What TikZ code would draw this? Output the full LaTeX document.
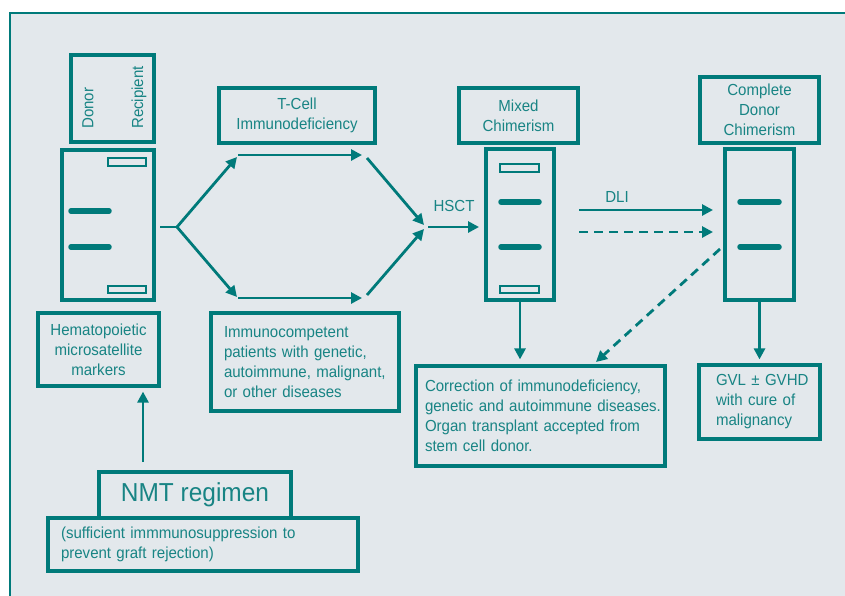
\documentclass[tikz,border=0pt]{standalone}
\usepackage{fontspec}
\setmainfont[FakeStretch=0.94]{Liberation Sans}
\usetikzlibrary{arrows.meta}
\definecolor{tealc}{RGB}{0,122,122}
\definecolor{txtc}{RGB}{24,132,132}
\definecolor{bgc}{RGB}{227,232,236}
\begin{document}
\begin{tikzpicture}[x=1pt,y=-1pt,
  box/.style={draw=tealc, line width=3.2pt, inner sep=0pt, text=txtc, align=center,
    font=\fontsize{16}{20}\selectfont},
  lbox/.style={box, align=left},
  lbl/.style={text=txtc, inner sep=0pt, font=\fontsize{16}{20}\selectfont},
  conn/.style={draw=tealc, line width=2.8pt, -{Triangle[length=11pt,width=11pt]}},
  dconn/.style={conn, dash pattern=on 9pt off 6pt},
  bar/.style={draw=tealc, line width=5.5pt, line cap=round},
  slot/.style={draw=tealc, line width=1.6pt}]
\useasboundingbox (0,0) rectangle (845,595);
\fill[white] (0,0) rectangle (845,595);
\begin{scope}
\clip (0,0) rectangle (845,595);
\draw[tealc, line width=2.2pt, fill=bgc] (10,13) rectangle (870,620);
\end{scope}

% Donor / Recipient key
\node[box, minimum width=83pt, minimum height=87pt] (key) at (112.5,98.5) {};
\node[lbl, rotate=90, anchor=west] (don) at (88,129) {Donor};
\node[lbl, rotate=90, anchor=west] (rec) at (139,129) {Recipient};

% Gel 1
\node[box, minimum width=92pt, minimum height=150pt] (g1) at (108,225) {};
\draw[slot] (108,158) rectangle (146,166);
\draw[slot] (108,286) rectangle (146,293);
\draw[bar] (71,211) -- (109,211);
\draw[bar] (71,247) -- (109,247);

% Title boxes
\node[box, minimum width=156pt, minimum height=55pt] (tcell) at (297,115.5) {T-Cell\\Immunodeficiency};
\node[box, minimum width=119pt, minimum height=55pt] (mixed) at (518.5,115.5) {Mixed\\Chimerism};
\node[box, minimum width=119pt, minimum height=66pt] (compl) at (759.5,110) {Complete\\Donor\\Chimerism};

% Gel 2
\node[box, minimum width=68pt, minimum height=151pt] (g2) at (520,224.5) {};
\draw[slot] (500,164) rectangle (539,172);
\draw[slot] (500,286) rectangle (539,293);
\draw[bar] (501,202) -- (539,202);
\draw[bar] (501,247) -- (539,247);

% Gel 3
\node[box, minimum width=69pt, minimum height=151pt] (g3) at (759.5,224.5) {};
\draw[bar] (740,202) -- (779,202);
\draw[bar] (740,247) -- (779,247);

% Lower boxes
\node[box, minimum width=121pt, minimum height=73pt] (hema) at (98.5,349.5) {Hematopoietic\\microsatellite\\markers};
\node[lbox, minimum width=188pt, minimum height=98pt, text width=162pt, inner xsep=13pt] (immc) at (305,362)
  {\mbox{Immunocompetent}\\\mbox{patients with genetic,}\\\mbox{autoimmune, malignant,}\\\mbox{or other diseases}};
\node[lbox, minimum width=249pt, minimum height=100pt, text width=231pt, inner xsep=9pt] (corr) at (540.5,416)
  {\mbox{Correction of immunodeficiency,}\\\mbox{genetic and autoimmune diseases.}\\\mbox{Organ transplant accepted from}\\\mbox{stem cell donor.}};
\node[lbox, minimum width=121pt, minimum height=74pt, text width=87pt, inner xsep=17pt] (gvl) at (759.5,402)
  {\mbox{GVL ± GVHD}\\\mbox{with cure of}\\\mbox{malignancy}};
\node[lbox, minimum width=310pt, minimum height=53pt, text width=284pt, inner xsep=13pt] (suff) at (203,544.5)
  {\mbox{(sufficient immmunosuppression to}\\\mbox{prevent graft rejection)}};
\node[box, minimum width=192pt, minimum height=46pt, font=\fontsize{26}{30}\selectfont] (nmt) at (195,495) {NMT regimen};

% Labels
\node[lbl] (hsct) at (454,206) {HSCT};
\node[lbl] (dli) at (617,197) {DLI};

% Coordinates for connector ends
\coordinate (j0) at (160,227);
\coordinate (j1) at (177,227);
\coordinate (tl) at (237,157);
\coordinate (bl) at (237,297);
\coordinate (th0) at (238,155);
\coordinate (th1) at (362,155);
\coordinate (bh0) at (238,298);
\coordinate (bh1) at (362,298);
\coordinate (td) at (367,158);
\coordinate (bd) at (367,295);
\coordinate (m1) at (424,225);
\coordinate (m2) at (424,229);
\coordinate (h0) at (428,227);
\coordinate (h1) at (479,227);
\coordinate (d0) at (579,210);
\coordinate (d1) at (713,210);
\coordinate (e0) at (579,232);
\coordinate (e1) at (713,232);
\coordinate (f0) at (720,249);
\coordinate (f1) at (596,362);
\coordinate (a0) at (143,462);

\draw[tealc, line width=2.8pt] (j0) -- (j1);
\draw[conn] (j1) -- (tl);
\draw[conn] (j1) -- (bl);
\draw[conn] (th0) -- (th1);
\draw[conn] (bh0) -- (bh1);
\draw[conn] (td) -- (m1);
\draw[conn] (bd) -- (m2);
\draw[conn] (h0) -- (h1);
\draw[conn] (d0) -- (d1);
\draw[dconn] (e0) -- (e1);
\draw[dconn] (f0) -- (f1);
\draw[conn, shorten >=5pt] (g2.south) -- (g2.south |- corr.north);
\draw[conn, shorten >=4pt] (g3.south) -- (g3.south |- gvl.north);
\draw[conn, shorten >=4pt] (a0) -- (a0 |- hema.south);
\end{tikzpicture}
\end{document}
